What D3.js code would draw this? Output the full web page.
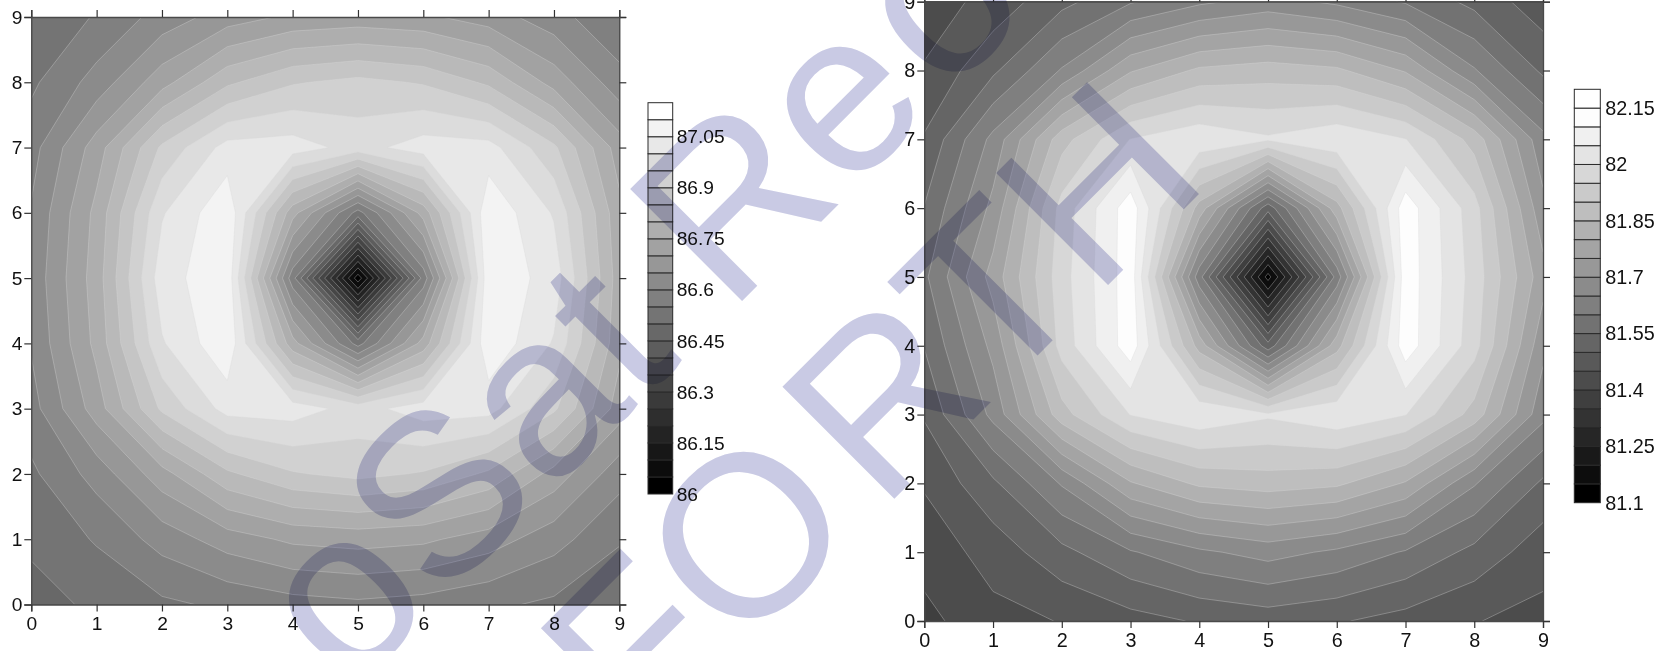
<!DOCTYPE html>
<html><head><meta charset="utf-8">
<script src="https://cdn.jsdelivr.net/npm/d3@7"></script>
<style>
html,body{margin:0;padding:0;background:#fff}
svg{display:block}
text{font-family:"Liberation Sans",Arial,sans-serif;fill:#111}
</style></head><body>
<script>
const axisTicks = [0,1,2,3,4,5,6,7,8,9];

// row index = y value (0..9), column index = x value (0..9)
const leftGrid = [
 [86.48,86.51,86.54,86.56,86.58,86.59,86.58,86.56,86.54,86.51],
 [86.51,86.555,86.62,86.675,86.71,86.72,86.71,86.675,86.62,86.555],
 [86.54,86.62,86.73,86.84,86.895,86.915,86.895,86.84,86.73,86.62],
 [86.58,86.725,86.91,87.02,87.025,86.98,87.025,87.02,86.91,86.725],
 [86.605,86.765,86.995,87.09,86.77,86.53,86.77,87.09,86.995,86.765],
 [86.615,86.775,87.03,87.085,86.57,86.02,86.57,87.085,87.03,86.775],
 [86.605,86.765,86.995,87.09,86.77,86.53,86.77,87.09,86.995,86.765],
 [86.58,86.725,86.91,87.02,87.025,86.98,87.025,87.02,86.91,86.725],
 [86.54,86.62,86.73,86.84,86.895,86.915,86.895,86.84,86.73,86.62],
 [86.505,86.555,86.62,86.675,86.71,86.72,86.71,86.675,86.62,86.555]
];
const rightGrid = [
 [81.385,81.435,81.452,81.48,81.505,81.52,81.505,81.48,81.452,81.435],
 [81.42,81.47,81.535,81.595,81.64,81.67,81.64,81.595,81.535,81.47],
 [81.455,81.54,81.655,81.795,81.86,81.875,81.86,81.795,81.655,81.54],
 [81.505,81.665,81.88,82.002,82.04,82.008,82.04,82.002,81.88,81.665],
 [81.552,81.715,81.97,82.13,81.83,81.52,81.83,82.13,81.97,81.715],
 [81.59,81.77,81.98,82.13,81.62,81.13,81.62,82.13,81.98,81.77],
 [81.552,81.715,81.97,82.13,81.83,81.52,81.83,82.13,81.97,81.715],
 [81.505,81.665,81.88,82.002,82.04,82.008,82.04,82.002,81.88,81.665],
 [81.455,81.54,81.655,81.795,81.86,81.875,81.86,81.795,81.655,81.54],
 [81.42,81.47,81.535,81.595,81.64,81.67,81.64,81.595,81.535,81.47]
];
const leftLevels = [86,86.05,86.1,86.15,86.2,86.25,86.3,86.35,86.4,86.45,86.5,86.55,86.6,86.65,86.7,86.75,86.8,86.85,86.9,86.95,87,87.05,87.1,87.15];
const rightLevels = [81.1,81.15,81.2,81.25,81.3,81.35,81.4,81.45,81.5,81.55,81.6,81.65,81.7,81.75,81.8,81.85,81.9,81.95,82,82.05,82.1,82.15,82.2];
const leftBarTicks = [86,86.15,86.3,86.45,86.6,86.75,86.9,87.05];
const rightBarTicks = [81.1,81.25,81.4,81.55,81.7,81.85,82,82.15];
const watermarkLine1 = ["oSat Re","o"];
const watermarkLine2 = ["FO","RTH"];

const svg = d3.select("body").append("svg").attr("width",1667).attr("height",651);
const defs = svg.append("defs");

function panel(id, grid, levels, barTicks, box, bar, grayStep, fs){
  const x = d3.scaleLinear().domain([0,9]).range([box.x0,box.x1]);
  const y = d3.scaleLinear().domain([0,9]).range([box.y0,box.y1]);
  const gray = i => { const g = Math.min(255,Math.round(i*grayStep)); return `rgb(${g},${g},${g})`; };

  defs.append("clipPath").attr("id",id).append("rect")
    .attr("x",box.x0).attr("y",box.y1).attr("width",box.x1-box.x0).attr("height",box.y0-box.y1);

  const bands = levels.slice(0,-1);
  const contours = d3.contours().size([10,10]).thresholds(bands)(grid.flat());
  const path = d3.geoPath(d3.geoTransform({point(px,py){ this.stream.point(x(px-0.5),y(py-0.5)); }}));

  const g = svg.append("g").attr("clip-path",`url(#${id})`);
  g.selectAll("path").data(contours).join("path")
    .attr("d",path)
    .attr("fill",(d,i)=>gray(i))
    .attr("stroke",(d,i)=> i===0 ? "none" : "#d8d8d8")
    .attr("stroke-width",0.35)
    .attr("stroke-linejoin","round");

  const styleAxis = (sel)=>{
    sel.selectAll("path").attr("stroke","#4a4a4a").attr("stroke-width",1.3);
    sel.selectAll("line").attr("stroke","#333").attr("stroke-width",1.2);
    sel.selectAll("text").attr("font-size",fs).attr("fill","#111");
  };
  const mk = (a)=>a.tickValues(axisTicks).tickFormat(d3.format("d")).tickSizeOuter(0).tickSize(7);
  svg.append("g").attr("transform",`translate(${box.x0},0)`).call(mk(d3.axisLeft(y)).tickPadding(2)).call(styleAxis);
  svg.append("g").attr("transform",`translate(0,${box.y0})`).call(mk(d3.axisBottom(x)).tickPadding(5)).call(styleAxis);
  svg.append("g").attr("transform",`translate(${box.x1},0)`).call(mk(d3.axisRight(y)).tickFormat("")).call(styleAxis);
  svg.append("g").attr("transform",`translate(0,${box.y1})`).call(mk(d3.axisTop(x)).tickFormat("")).call(styleAxis);

  // colour bar
  const by = d3.scaleLinear().domain([levels[0],levels[levels.length-1]]).range([bar.y0,bar.y1]);
  const bg = svg.append("g");
  bg.selectAll("rect").data(bands).join("rect")
    .attr("x",bar.x0).attr("width",bar.x1-bar.x0)
    .attr("y",(d,i)=>by(levels[i+1])).attr("height",(d,i)=>by(levels[i])-by(levels[i+1]))
    .attr("fill",(d,i)=>gray(i)).attr("stroke","#2a2a2a").attr("stroke-width",1);
  const ba = svg.append("g").attr("transform",`translate(${bar.x1},0)`)
    .call(d3.axisRight(by).tickValues(barTicks).tickFormat(d=>String(d)).tickSize(0).tickPadding(bar.pad));
  ba.select("path").remove();
  ba.selectAll("text").attr("font-size",fs).attr("fill","#111");
}

panel("clipL",leftGrid,leftLevels,leftBarTicks,
  {x0:31.3,x1:619.3,y0:604.5,y1:17},
  {x0:648,x1:672.7,y0:494,y1:102.7,pad:4}, 255/22, 19.2);
panel("clipR",rightGrid,rightLevels,rightBarTicks,
  {x0:924.3,x1:1543,y0:621,y1:1.7},
  {x0:1574.3,x1:1600.3,y0:502.7,y1:89.3,pad:5}, 12.65, 19.8);

// watermark
const wm = svg.append("g").style("mix-blend-mode","multiply").attr("pointer-events","none");
const wmLines = [
  {runs:watermarkLine1,pos:[349,694],gap:12},
  {runs:watermarkLine2,pos:[639.5,753.5],gap:22}
];
const wt = wm.selectAll("text").data(wmLines).join("text")
  .attr("transform",d=>`translate(${d.pos[0]},${d.pos[1]}) rotate(-45)`)
  .attr("font-size",230)
  .style("fill","#c9cae4");
wt.each(function(d){
  d3.select(this).selectAll("tspan").data(d.runs).join("tspan")
    .attr("dx",(r,i)=>i===0?0:d.gap)
    .text(r=>r);
});
</script>
</body></html>
